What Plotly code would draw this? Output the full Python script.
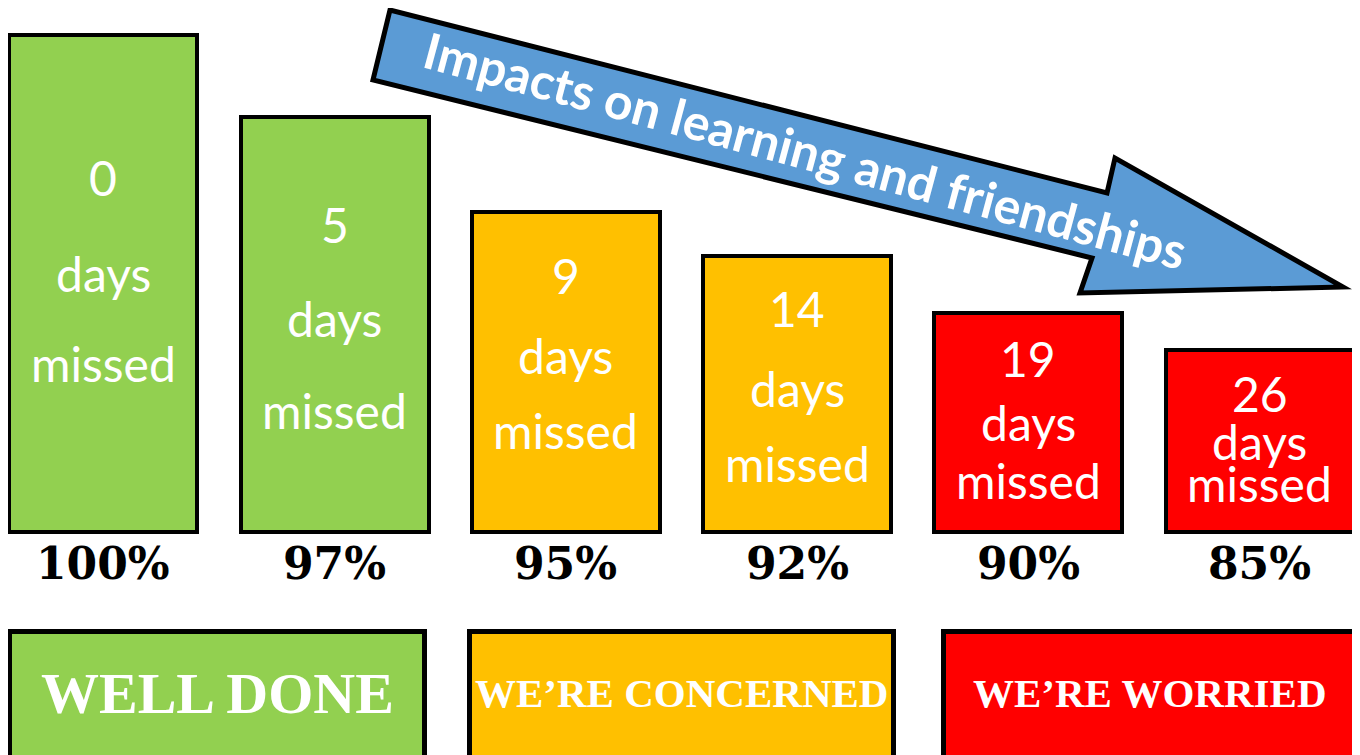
import plotly.graph_objects as go

# ---- data ----
categories = ["0 days missed", "5 days missed", "9 days missed",
              "14 days missed", "19 days missed", "26 days missed"]
days_missed = ["0", "5", "9", "14", "19", "26"]
attendance = ["100%", "97%", "95%", "92%", "90%", "85%"]
bar_heights = [497, 415, 320, 276, 219, 182]   # relative bar heights
bar_colors = ["#92D050", "#92D050", "#FFC000", "#FFC000", "#FF0000", "#FF0000"]
group_labels = ["WELL DONE", "WE\u2019RE CONCERNED", "WE\u2019RE WORRIED"]
group_colors = ["#92D050", "#FFC000", "#FF0000"]
arrow_text = "Impacts on learning and friendships"

SCREEN_W, SCREEN_H = 1360, 755
OFF = 8  # page body margin of the browser
W, H = SCREEN_W - OFF, SCREEN_H - OFF
X0PX, XSTEP, BASE = 103.2, 231.3, 532


def px_x(px):
    return (px - X0PX) / XSTEP


def px_y(py):
    return BASE - py


positions = list(range(len(categories)))

fig = go.Figure()
fig.add_trace(go.Bar(
    x=positions, y=bar_heights, width=188 / XSTEP,
    marker=dict(color=bar_colors, line=dict(color="black", width=4)),
    hoverinfo="skip", showlegend=False,
))

annotations = []
# text lines inside bars (pixel y centres of the three lines)
line_py = [
    (177, 273, 363),
    (224, 318, 410),
    (275, 355, 430),
    (308, 388, 463),
    (358, 422, 480),
    (393, 441, 483),
]
for i, d in enumerate(days_missed):
    for txt, py in zip([d, "days", "missed"], line_py[i]):
        annotations.append(dict(
            x=positions[i], y=px_y(py), text=txt, showarrow=False,
            xanchor="center", yanchor="middle",
            font=dict(family="Lato", size=48, color="white"),
        ))
    annotations.append(dict(
        x=positions[i], y=px_y(563), text="<b>%s</b>" % attendance[i],
        showarrow=False, xanchor="center", yanchor="middle",
        font=dict(family="DejaVu Serif", size=44, color="black"),
    ))

# bottom group boxes
shapes = []
box_px = [(9.5, 424.5), (469.5, 893.5), (943.5, 1355.5)]
label_sizes = [58, 41, 41]
for (a, b), lab, col, fs in zip(box_px, group_labels, group_colors, label_sizes):
    shapes.append(dict(
        type="rect", xref="x", yref="y",
        x0=px_x(a), x1=px_x(b), y0=px_y(631.5), y1=px_y(800),
        fillcolor=col, line=dict(color="black", width=5), layer="above",
    ))
    annotations.append(dict(
        x=px_x((a + b) / 2), y=px_y(693), text="<b>%s</b>" % lab,
        showarrow=False, xanchor="center", yanchor="middle",
        font=dict(family="Liberation Serif", size=fs, color="white"),
    ))

# arrow
arrow_px = [(390, 10), (1107, 193), (1115, 158), (1343, 287),
            (1080, 293), (1092, 258), (373, 80)]
path = "M " + " L ".join("%f,%f" % (px_x(a), px_y(b)) for a, b in arrow_px) + " Z"
shapes.append(dict(
    type="path", xref="x", yref="y", path=path,
    fillcolor="#5B9BD5", line=dict(color="black", width=5), layer="above",
))
annotations.append(dict(
    x=px_x(805), y=px_y(150), text="<b>%s</b>" % arrow_text,
    showarrow=False, xanchor="center", yanchor="middle", textangle=15,
    font=dict(family="Lato", size=50, color="white"),
))

fig.update_layout(
    width=W, height=H,
    margin=dict(l=0, r=0, t=0, b=0),
    paper_bgcolor="white", plot_bgcolor="white",
    xaxis=dict(range=[px_x(OFF), px_x(OFF + W)], visible=False, fixedrange=True),
    yaxis=dict(range=[px_y(OFF + H), px_y(OFF)], visible=False, fixedrange=True),
    shapes=shapes, annotations=annotations,
    bargap=0, showlegend=False,
)

fig.write_html("out.html")
